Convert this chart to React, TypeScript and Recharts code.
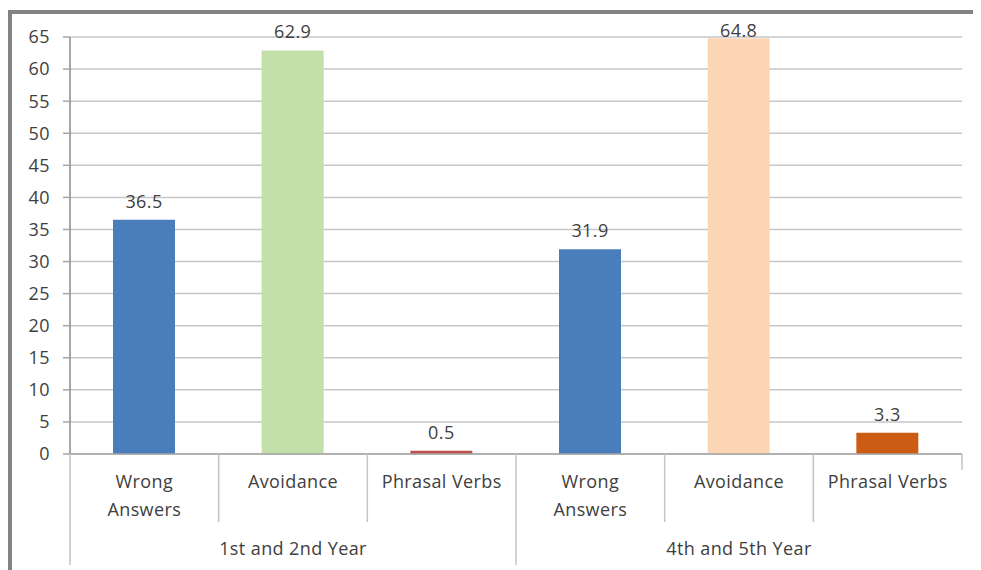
import { BarChart, Bar, XAxis, YAxis, CartesianGrid, Cell, LabelList } from 'recharts';

// chart values
const categories = ['Wrong Answers', 'Avoidance', 'Phrasal Verbs', 'Wrong Answers', 'Avoidance', 'Phrasal Verbs'];
const groups = ['1st and 2nd Year', '4th and 5th Year'];
const values = [36.5, 62.9, 0.5, 31.9, 64.8, 3.3];
const yTicks = [0, 5, 10, 15, 20, 25, 30, 35, 40, 45, 50, 55, 60, 65];

const barColors = ['#4a7ebb', '#c3dfaa', '#c0504d', '#4a7ebb', '#fcd5b4', '#cc5c14'];

const data = categories.map((name, i) => ({
  id: `${i}`,
  name,
  group: groups[Math.floor(i / 3)],
  value: values[i],
}));

const W = 973;
const H = 562;
const margin = { top: 29, right: 19, left: 22, bottom: 6 };
const yAxisWidth = 40;
const xAxisHeight = 110;
const plotLeft = margin.left + yAxisWidth;
const plotBottom = H - margin.bottom - xAxisHeight;
const band = (W - plotLeft - margin.right) / categories.length;

const font = '"Open Sans", Lato, sans-serif';
const fontSize = 18;
const spacing = 0.4;
const textColor = '#404040';
const divider = '#c4c4c4';

function CategoryTick(props: any) {
  const { payload, index } = props;
  const cx = payload.coordinate;
  const left = cx - band / 2;
  const item = data[index];
  const lines = item.name === 'Wrong Answers' ? ['Wrong', 'Answers'] : [item.name];
  const startsGroup = index % 3 === 0;
  const isMiddle = index % 3 === 1;
  const isLast = index === data.length - 1;
  return (
    <g>
      <line x1={left} x2={left} y1={plotBottom} y2={startsGroup ? plotBottom + 111 : plotBottom + 68} stroke={divider} strokeWidth={1.5} />
      {isLast && (
        <line x1={left + band} x2={left + band} y1={plotBottom} y2={plotBottom + 16} stroke={divider} strokeWidth={1.5} />
      )}
      {lines.map((t, j) => (
        <text key={j} x={cx} y={plotBottom + 34 + j * 28} textAnchor="middle" fill={textColor} fontSize={fontSize} fontFamily={font} letterSpacing={spacing}>
          {t}
        </text>
      ))}
      {isMiddle && (
        <text x={cx} y={plotBottom + 101} textAnchor="middle" fill={textColor} fontSize={fontSize} fontFamily={font} letterSpacing={spacing}>
          {item.group}
        </text>
      )}
    </g>
  );
}

// value label above a bar, kept inside the plot area like the original
function ValueLabel(props: any) {
  const { x, y, width, value } = props;
  const baseline = Math.max(Number(y) - 12, margin.top);
  return (
    <text x={Number(x) + Number(width) / 2} y={baseline} textAnchor="middle" fill={textColor} fontSize={fontSize} fontFamily={font} letterSpacing={spacing}>
      {value}
    </text>
  );
}

export default function App() {
  return (
    <div style={{ position: 'relative', width: W, height: H }}>
      <div
        style={{
          position: 'absolute',
          left: 0,
          top: 2,
          width: W,
          height: H - 2,
          borderLeft: '4px solid #828282',
          borderTop: '4px solid #828282',
          boxSizing: 'border-box',
        }}
      />
      <div style={{ position: 'absolute', left: 0, top: 0 }}>
        <BarChart width={W} height={H} data={data} margin={margin} barSize={62}>
          <CartesianGrid vertical={false} stroke="#c6c6c6" strokeWidth={1.5} />
          <XAxis
            dataKey="id"
            height={xAxisHeight}
            interval={0}
            tickLine={false}
            axisLine={{ stroke: '#a6a6a6', strokeWidth: 1.5 }}
            tick={<CategoryTick />}
          />
          <YAxis
            width={yAxisWidth}
            domain={[0, 65]}
            ticks={yTicks}
            interval={0}
            tickSize={7}
            tickMargin={13}
            axisLine={{ stroke: '#8c8c8c', strokeWidth: 1.5 }}
            tickLine={{ stroke: '#a6a6a6', strokeWidth: 1.5 }}
            tick={{ fill: textColor, fontSize: fontSize, fontFamily: font, letterSpacing: spacing }}
          />
          <Bar dataKey="value" isAnimationActive={false}>
            {data.map((d, i) => (
              <Cell key={d.id} fill={barColors[i]} />
            ))}
            <LabelList dataKey="value" content={<ValueLabel />} />
          </Bar>
        </BarChart>
      </div>
    </div>
  );
}
